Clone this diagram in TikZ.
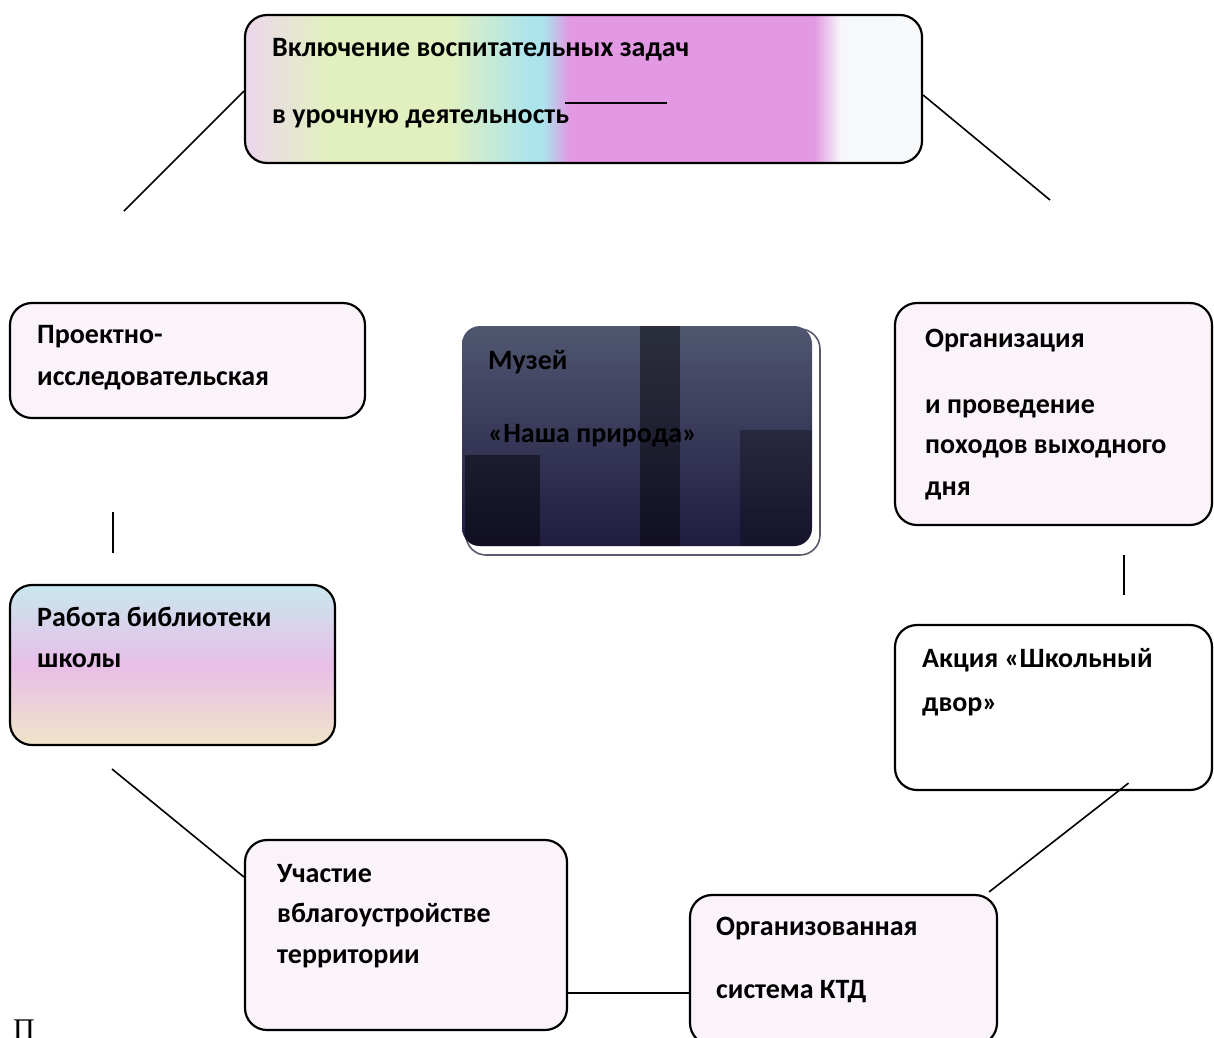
\documentclass[tikz,border=0pt]{standalone}
\usepackage{fontspec}
\setmainfont{Carlito}
\newfontfamily\serifT{Liberation Serif}
\usetikzlibrary{calc}
\definecolor{cW}{RGB}{246,248,250}
\definecolor{cA}{RGB}{236,214,236}
\definecolor{cY}{RGB}{226,240,192}
\definecolor{cC}{RGB}{172,228,236}
\definecolor{cM}{RGB}{226,152,226}
\definecolor{cP}{RGB}{250,244,250}
\definecolor{dkA}{RGB}{80,86,112}
\definecolor{dkB}{RGB}{66,46,104}
\definecolor{dkC}{RGB}{32,28,64}
\pgfdeclarehorizontalshading{topshade}{100bp}{color(0bp)=(cA); color(25bp)=(cA); color(31bp)=(cY); color(40bp)=(cY); color(46bp)=(cC); color(47bp)=(cC); color(49bp)=(cM); color(67bp)=(cM); color(69bp)=(cW); color(75bp)=(cW); color(100bp)=(cW)}
\begin{document}
\begin{tikzpicture}[x=1pt,y=-1pt,
  box/.style={draw=black, line width=2.2pt, rounded corners=22pt, inner sep=0pt},
  txt/.style={anchor=mid west, font=\fontsize{28}{32}\selectfont\bfseries, inner sep=0pt},
  conn/.style={line width=1.6pt, black}]
\useasboundingbox (0,0) rectangle (1214,1037);

% boxes
\node[box, shading=topshade, minimum width=677pt, minimum height=148pt] (top) at (583.5,89) {};
\node[box, fill=cP, minimum width=355pt, minimum height=115pt] (proj) at (187.5,360.5) {};
\node[box, fill=cP, minimum width=317pt, minimum height=222pt] (org) at (1053.5,414) {};
\node[box, top color={rgb,255:red,200;green,232;blue,238}, bottom color={rgb,255:red,240;green,228;blue,200}, middle color={rgb,255:red,232;green,190;blue,232}, minimum width=325pt, minimum height=160pt] (lib) at (172.5,665) {};
\node[box, fill=white, minimum width=317pt, minimum height=165pt] (akc) at (1053.5,707.5) {};
\node[box, fill=cP, minimum width=322pt, minimum height=190pt] (uch) at (406,935) {};
\node[box, fill=cP, minimum width=307pt, minimum height=150pt] (ktd) at (843.5,970) {};

% center box
\node[draw={rgb,255:red,90;green,90;blue,110}, line width=1.6pt, rounded corners=20pt, minimum width=354pt, minimum height=226pt, inner sep=0pt] (cframe) at (643,442) {};
\node[rounded corners=18pt, top color=dkA, middle color=dkB, bottom color=dkC, minimum width=350pt, minimum height=220pt, inner sep=0pt] (cen) at (637,436) {};
\begin{scope}
  \clip[rounded corners=18pt] (cen.north west) rectangle (cen.south east);
  \fill[black, opacity=0.45] (465,455) rectangle (540,548);
  \fill[black, opacity=0.45] (640,326) rectangle (680,548);
  \fill[black, opacity=0.3] (740,430) rectangle (812,548);
\end{scope}

% texts
\node[txt] (t1) at (272,54) {Включение воспитательных задач};
\node[txt] (t2) at (272,121) {в урочную деятельность};
\node[txt] (p1) at (37,341) {Проектно-};
\node[txt] (p2) at (37,383) {исследовательская};
\node[txt] (c1) at (488,367) {Музей};
\node[txt] (c2) at (488,440) {«Наша природа»};
\node[txt] (o1) at (925,345) {Организация};
\node[txt] (o2) at (925,411) {и проведение};
\node[txt] (o3) at (925,451) {походов выходного};
\node[txt] (o4) at (925,493) {дня};
\node[txt] (l1) at (37,624) {Работа библиотеки};
\node[txt] (l2) at (37,665) {школы};
\node[txt] (a1) at (922,665) {Акция «Школьный};
\node[txt] (a2) at (922,709) {двор»};
\node[txt] (u1) at (277,880) {Участие};
\node[txt] (u2) at (277,920) {вблагоустройстве};
\node[txt] (u3) at (277,961) {территории};
\node[txt] (k1) at (716,933) {Организованная};
\node[txt] (k2) at (716,996) {система КТД};
\node[anchor=north west, inner sep=0pt, font=\serifT\fontsize{30}{34}\selectfont] (pp) at (13,1020) {П};

% free ends
\coordinate (e1) at (124,211);
\coordinate (e2) at (1050,200);
\coordinate (v1a) at (113,512);
\coordinate (v1b) at (113,553);
\coordinate (v2a) at (1124,555);
\coordinate (v2b) at (1124,595);
\coordinate (e3) at (112,769);
\coordinate (s1) at (565,103);
\coordinate (s2) at (667,103);

% connectors
\draw[conn] ([yshift=-2pt]top.west) -- (e1);
\draw[conn] ([yshift=-6pt]top.east) -- (e2);
\draw[conn] (v1a) -- (v1b);
\draw[conn] (v2a) -- (v2b);
\draw[conn] (e3) -- ([yshift=58pt]uch.west);
\draw[conn] ($(akc.south)+(75,-8)$) -- ([xshift=-9pt,yshift=2pt]ktd.north east);
\draw[conn] ([yshift=-58pt]uch.east) -- ([yshift=-23pt]ktd.west);
\draw[conn] (s1) -- (s2);
\end{tikzpicture}
\end{document}
